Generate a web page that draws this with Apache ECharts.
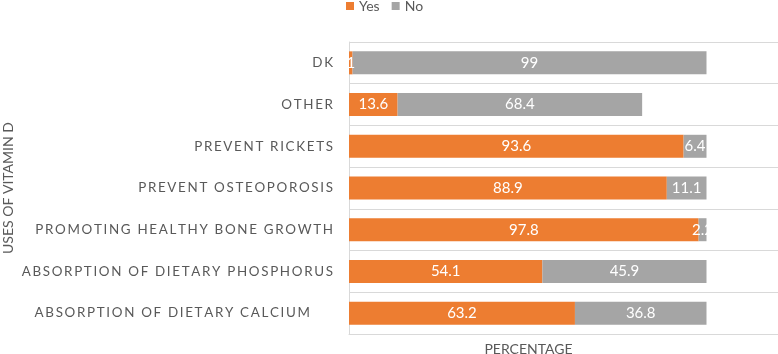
<!DOCTYPE html>
<html>
<head>
<meta charset="utf-8">
<script src="https://cdn.jsdelivr.net/npm/echarts@6/dist/echarts.min.js"></script>
<style>
  html, body { margin: 0; padding: 0; background: #fff; }
  #chart { width: 778px; height: 354px; }
</style>
</head>
<body>
<div id="chart"></div>
<script>
// bottom to top, as drawn on the category axis
var categories = [
  'Absorption of dietary calcium',
  'Absorption of dietary phosphorus',
  'Promoting healthy bone growth',
  'Prevent osteoporosis',
  'Prevent rickets',
  'Other',
  'DK'
];
var yesValues = [63.2, 54.1, 97.8, 88.9, 93.6, 13.6, 1];
var noValues = [36.8, 45.9, 2.2, 11.1, 6.4, 68.4, 99];

var FONT = 'Lato, "Open Sans", sans-serif';

// excel style spaced capitals
function spaced(s) {
  return s.toUpperCase().split('').join('\u2009');
}

var chart = echarts.init(document.getElementById('chart'));

var option = {
  animation: false,
  legend: {
    top: -6,
    left: 341,
    itemWidth: 8,
    itemHeight: 8,
    itemGap: 12,
    icon: 'rect',
    textStyle: { color: '#595959', fontSize: 14, fontFamily: FONT },
    data: ['Yes', 'No']
  },
  grid: {
    left: 349,
    right: 0,
    top: 42,
    bottom: 20,
    containLabel: false,
    outerBoundsMode: 'none'
  },
  xAxis: {
    type: 'value',
    min: 0,
    max: 120,
    axisLabel: { show: false },
    axisTick: { show: false },
    splitLine: { show: false },
    axisLine: { show: true, lineStyle: { color: '#D9D9D9' } },
    name: 'PERCENTAGE',
    nameLocation: 'middle',
    nameGap: 8,
    nameMoveOverlap: false,
    nameTextStyle: {
      color: '#595959',
      fontSize: 14,
      fontFamily: FONT,
      padding: [0, 70, 0, 0]
    }
  },
  yAxis: {
    type: 'category',
    data: categories,
    axisTick: { show: false },
    axisLine: { show: true, lineStyle: { color: '#D9D9D9' } },
    splitLine: { show: true, lineStyle: { color: '#D9D9D9', width: 1 } },
    axisLabel: {
      margin: 16,
      color: '#595959',
      fontSize: 13.4,
      fontFamily: FONT,
      formatter: function(v, i) {
        if (i === 0) {
          return '{off|' + spaced(v) + '}';
        }
        return spaced(v);
      },
      rich: {
        off: {
          color: '#595959',
          fontSize: 13.4,
          fontFamily: FONT,
          padding: [0, 23, 0, 0]
        }
      }
    },
    name: 'USES OF VITAMIN D',
    nameLocation: 'middle',
    nameRotate: 90,
    nameGap: 334,
    nameMoveOverlap: false,
    nameTextStyle: { color: '#595959', fontSize: 14, fontFamily: FONT }
  },
  series: [{
    name: 'Yes',
    type: 'bar',
    stack: 'all',
    barWidth: 23,
    data: yesValues,
    itemStyle: { color: '#ED7D31' },
    label: {
      show: true,
      position: 'inside',
      color: '#fff',
      fontSize: 15,
      fontFamily: FONT
    }
  }, {
    name: 'No',
    type: 'bar',
    stack: 'all',
    barWidth: 23,
    data: noValues,
    itemStyle: { color: '#A5A5A5' },
    label: {
      show: true,
      position: 'inside',
      color: '#fff',
      fontSize: 15,
      fontFamily: FONT
    }
  }]
};

chart.setOption(option);
</script>
</body>
</html>
